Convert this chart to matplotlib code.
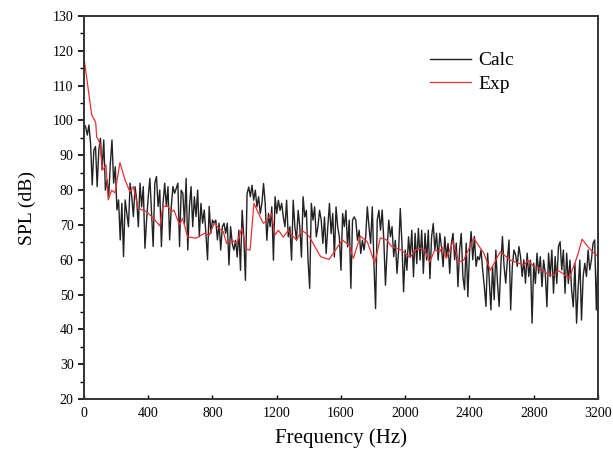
import numpy as np
import matplotlib
matplotlib.use('Agg')
import matplotlib.pyplot as plt
from matplotlib.ticker import MultipleLocator

plt.rcParams['font.family'] = ['Liberation Serif', 'DejaVu Serif']

# Calc spectrum (dB), evenly spaced bins 0..3200 Hz
calc_spl = [
    99.0, 98.2, 95.8, 98.7, 93.4, 81.5, 91.5, 92.5, 81.0, 91.5,
    94.9, 85.8, 94.4, 80.0, 82.9, 78.1, 87.7, 94.4, 82.0, 86.7,
    74.3, 77.2, 65.7, 76.2, 60.9, 77.2, 73.3, 69.5, 82.0, 78.1,
    72.4, 81.0, 77.2, 69.5, 82.0, 75.2, 81.0, 63.3, 71.4, 78.1,
    83.4, 73.3, 63.8, 82.0, 83.9,
    75.3, 80.0, 63.8, 76.2, 82.0, 75.3, 81.0, 65.7, 75.3, 81.0,
    79.1, 80.5, 82.0, 63.8, 80.0, 79.1, 70.5, 83.4, 62.8, 75.3,
    81.0, 69.5, 78.1, 72.4, 80.0, 66.6, 76.2, 70.5, 74.3, 67.6,
    60.0, 75.3, 67.6, 71.4, 70.5, 71.4, 65.7, 70.5, 62.8, 69.5,
    70.5, 67.6, 70.5, 58.5, 69.5,
    64.7, 62.8, 65.6, 60.8, 68.5, 57.0, 74.2, 66.6, 54.1, 79.0,
    80.9, 78.1, 81.4, 77.1, 80.0, 75.2, 78.1, 73.3, 76.2, 81.9,
    76.2, 65.6, 73.3, 69.5, 75.2, 59.9, 78.1, 73.3, 77.1, 74.2,
    76.2, 72.3, 69.5, 77.1, 66.6, 69.5, 59.9, 77.1, 69.5, 65.6,
    74.2, 69.5, 60.8, 78.1, 72.3,
    74.2, 59.9, 51.8, 76.2, 71.4, 75.2, 66.6, 69.5, 74.2, 71.4,
    64.7, 72.3, 61.8, 69.5, 76.2, 67.5, 73.3, 60.8, 75.2, 69.5,
    66.6, 57.0, 73.3, 69.5, 74.2, 63.7, 71.4, 51.8, 71.4, 72.3,
    71.4, 65.6, 68.5, 61.8, 65.6, 62.8, 66.6, 75.2, 69.5, 64.7,
    75.2, 58.9, 46.0, 71.4, 74.2,
    68.5, 74.3, 65.6, 52.7, 62.8, 71.4, 66.6, 69.5, 60.9, 65.6,
    56.1, 62.8, 74.7, 64.7, 50.8, 62.8, 57.0, 66.6, 60.9, 68.5,
    55.1, 67.6, 58.9, 69.0, 59.9, 68.5, 56.1, 67.6, 59.9, 68.5,
    54.6, 66.6, 70.4, 62.8, 67.6, 59.9, 67.6, 63.7, 58.0, 66.6,
    60.9, 64.7, 56.1, 64.7, 67.6,
    60.0, 64.8, 52.3, 62.8, 67.6, 55.2, 51.4, 64.8, 49.4, 61.9,
    68.1, 60.0, 66.7, 58.1, 60.9, 60.0, 62.8, 57.1, 52.3, 46.6,
    61.9, 54.2, 45.6, 58.1, 48.5, 62.8, 53.3, 46.6, 58.1, 66.7,
    58.1, 53.3, 60.0, 65.7, 45.6, 58.1, 62.8, 61.4, 58.1, 63.8,
    60.9, 55.2, 60.0, 53.3, 61.9,
    55.2, 59.9, 41.8, 59.0, 53.2, 61.9, 56.1, 60.9, 52.3, 59.9,
    56.1, 46.5, 61.9, 55.2, 62.8, 50.4, 60.9, 53.2, 63.8, 65.2,
    57.1, 62.8, 50.4, 61.9, 53.2, 59.9, 51.3, 46.5, 59.0, 41.8,
    52.3, 59.9, 42.7, 55.2, 59.0, 55.2, 62.8, 57.1, 59.9, 64.7,
    65.7, 45.6, 60.9,
]
calc_freq = np.linspace(0, 3200, len(calc_spl))

# Exp spectrum
exp_freq = [
    0, 48, 73, 79, 100, 116, 137, 151, 172, 193,
    224, 255, 286, 307, 338, 390, 430, 473, 490, 520,
    545, 560, 594, 614, 645, 697, 749, 780, 811, 842,
    867, 888, 920, 951, 982, 1013, 1034, 1058, 1096, 1116,
    1130, 1168, 1189, 1210, 1241, 1272, 1293, 1324, 1355, 1382,
    1401, 1473, 1526, 1608, 1650, 1677, 1720, 1764, 1810, 1845,
    1884, 1916, 1976, 2030, 2061, 2092, 2120, 2152, 2184, 2215,
    2230, 2256, 2297, 2333, 2364, 2426, 2489, 2530, 2592, 2654,
    2706, 2740, 2765, 2800, 2835, 2897, 2928, 2949, 2980, 3022,
    3074, 3101, 3136, 3167, 3200,
]
exp_spl = [
    118.0, 101.6, 99.4, 95.3, 93.4, 85.8, 87.2, 77.2, 80.0, 79.2,
    87.9, 83.0, 79.5, 81.0, 74.8, 73.8, 72.0, 69.7, 75.2, 75.5,
    73.8, 74.3, 70.0, 71.9, 66.6, 66.2, 67.6, 67.1, 70.5, 69.0,
    68.1, 64.7, 65.7, 64.7, 69.0, 63.0, 62.8, 76.2, 72.4, 70.5,
    70.9, 73.3, 67.1, 68.5, 66.5, 68.5, 67.1, 65.7, 68.5, 67.6,
    66.8, 60.9, 60.1, 65.7, 64.2, 60.4, 66.8, 65.2, 59.0, 66.3,
    65.7, 63.8, 62.8, 60.6, 62.8, 63.3, 62.8, 59.4, 62.8, 62.3,
    63.6, 60.4, 65.2, 59.4, 59.9, 66.2, 61.9, 57.0, 62.3, 59.9,
    59.0, 58.5, 59.9, 58.0, 57.6, 55.6, 55.6, 57.0, 56.1, 54.7,
    61.4, 65.9, 63.8, 62.3, 61.0,
]

fig = plt.figure(figsize=(6.13, 4.53), dpi=100)
ax = fig.add_axes([0.137, 0.119, 0.8385, 0.8457])

ax.plot(calc_freq, calc_spl, color='#222222', lw=1.0, label='Calc')
ax.plot(exp_freq, exp_spl, color='#ea3035', lw=0.9, label='Exp')

ax.set_xlim(0, 3200)
ax.set_ylim(20, 130)
ax.set_xticks(np.arange(0, 3201, 400))
ax.set_yticks(np.arange(20, 131, 10))
ax.yaxis.set_minor_locator(MultipleLocator(5))

ax.tick_params(axis='y', which='major', direction='out', length=4, width=1.2, labelsize=10)
ax.tick_params(axis='y', which='minor', direction='out', length=3, width=1.0)
ax.tick_params(axis='x', which='major', direction='in', length=3, width=1.0, labelsize=10, pad=6)

for s in ax.spines.values():
    s.set_linewidth(1.4)
    s.set_color('#333333')

ax.set_xlabel('Frequency (Hz)', fontsize=15, labelpad=6)
ax.set_ylabel('SPL (dB)', fontsize=14, labelpad=12)

ax.legend(loc='upper left', bbox_to_anchor=(0.64, 0.952), frameon=False,
          fontsize=14, handlelength=2.1, handletextpad=0.35, labelspacing=0.3)

plt.savefig('out.png', dpi=100)
